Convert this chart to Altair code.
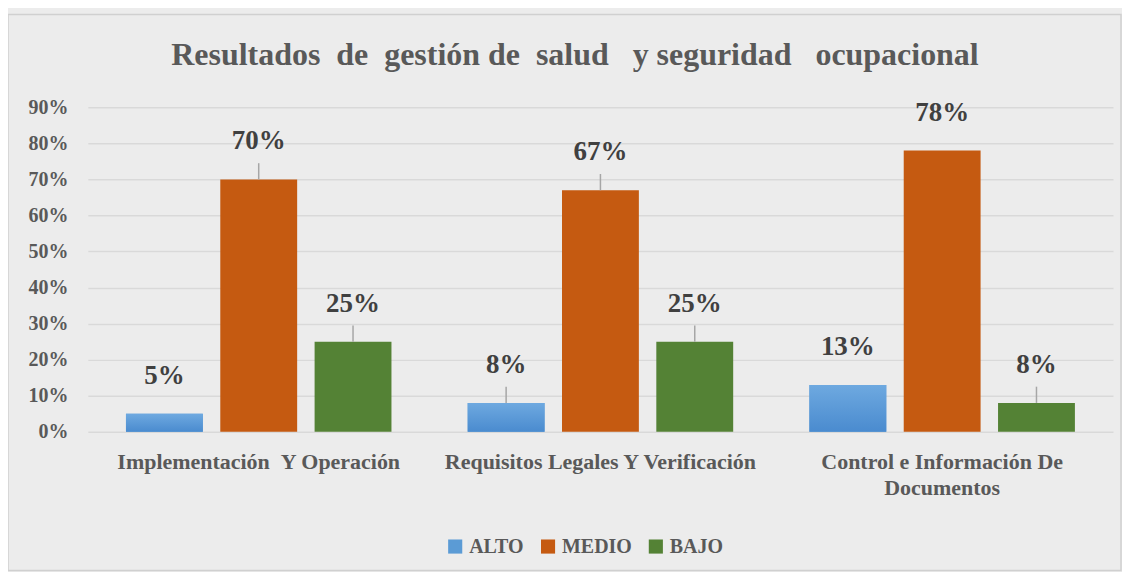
import altair as alt
import pandas as pd

NB = "\u00a0"
title_text = f"Resultados {NB}de {NB}gestión de {NB}salud {NB}{NB}y seguridad {NB}{NB}ocupacional"
categories = [f"Implementación {NB}Y Operación", "Requisitos Legales Y Verificación",
              "Control e Información De Documentos"]
levels = ["ALTO", "MEDIO", "BAJO"]
alto = [0.05, 0.08, 0.13]
medio = [0.70, 0.67, 0.78]
bajo = [0.25, 0.25, 0.08]
labels_alto = ["5%", "8%", "13%"]
labels_medio = ["70%", "67%", "78%"]
labels_bajo = ["25%", "25%", "8%"]
leader_alto = [False, True, False]
leader_medio = [True, True, False]
leader_bajo = [True, True, True]
colors = ["#5B9BD5", "#C55A11", "#548235"]

rows = []
for i, c in enumerate(categories):
    for lv, vals, labs, lead in [("ALTO", alto, labels_alto, leader_alto),
                                 ("MEDIO", medio, labels_medio, leader_medio),
                                 ("BAJO", bajo, labels_bajo, leader_bajo)]:
        rows.append({"cat": c, "nivel": lv, "valor": vals[i], "etiqueta": labs[i], "guia": lead[i]})
df = pd.DataFrame(rows)

FONT = "Liberation Serif"
W, H = 1027, 325

x = alt.X("cat:N", sort=categories, title=None,
          scale=alt.Scale(paddingInner=0.172, paddingOuter=0.086),
          axis=alt.Axis(labelAngle=0, labelFont=FONT, labelFontSize=22, labelFontWeight="bold",
                        labelColor="#595959", ticks=False, domain=False, labelPadding=20,
                        labelLineHeight=26, labelLimit=400,
                        labelExpr="indexof(datum.label, 'Documentos') >= 0 ? ['Control e Información De', 'Documentos'] : datum.label"))
xo = alt.XOffset("nivel:N", sort=levels, scale=alt.Scale(paddingInner=0.185, paddingOuter=0.0925))
y = alt.Y("valor:Q", title=None,
          scale=alt.Scale(domain=[0, 0.9], nice=False),
          axis=alt.Axis(format=".0%", values=[i / 10 for i in range(10)], labelFont=FONT,
                        labelFontSize=20, labelFontWeight="bold", labelColor="#595959",
                        ticks=False, domain=False, labelPadding=20, gridColor="#D9D9D9",
                        gridWidth=1.5))
color = alt.Color("nivel:N", sort=levels, scale=alt.Scale(domain=levels, range=colors),
                  legend=alt.Legend(title=None, orient="none", legendX=358, legendY=430,
                                    direction="horizontal", symbolType="square", symbolSize=200,
                                    symbolStrokeWidth=0, labelFont=FONT, labelFontSize=20,
                                    labelFontWeight="bold", labelColor="#595959",
                                    columnPadding=14, labelOffset=4))

base = alt.Chart(df)

bars = base.mark_bar().encode(x=x, xOffset=xo, y=y, color=color)

alto_grad = base.transform_filter(alt.datum.nivel == "ALTO").mark_bar(
    color=alt.LinearGradient(gradient="linear", x1=0, x2=0, y1=0, y2=1,
                             stops=[alt.GradientStop(color="#6EA9E0", offset=0),
                                    alt.GradientStop(color="#4A8BCF", offset=1)])
).encode(x=x, xOffset=xo, y=y)

leaders = base.transform_filter(alt.datum.guia).transform_calculate(
    top="datum.valor + 0.045").mark_rule(color="#A6A6A6", strokeWidth=1.5).encode(
    x=x, xOffset=xo, y=y, y2="top:Q")

texts = base.mark_text(font=FONT, fontSize=27, fontWeight="bold", color="#404040",
                       baseline="middle", dy=-38).encode(x=x, xOffset=xo, y=y, text="etiqueta:N")

border = alt.Chart(alt.Data(values=[{}])).mark_rect(filled=False, stroke="#D0D0D0",
                                                   strokeWidth=1.5).encode(
    x=alt.value(-80), x2=alt.value(1035), y=alt.value(-93), y2=alt.value(464))

title = alt.Chart(alt.Data(values=[{"t": title_text}])).mark_text(
    font=FONT, fontSize=32, fontWeight="bold", color="#595959", align="center",
    baseline="middle").encode(x=alt.value(488), y=alt.value(-52), text="t:N")

chart = alt.layer(border, bars, alto_grad, leaders, texts, title).properties(
    width=W, height=H,
    autosize=alt.AutoSizeParams(type="none"),
    padding={"left": 80, "top": 99, "right": 9, "bottom": 140},
    background="#ECECEC",
).configure_view(stroke=None)

chart.save("out.html", embed_options={"renderer": "svg", "actions": False})
